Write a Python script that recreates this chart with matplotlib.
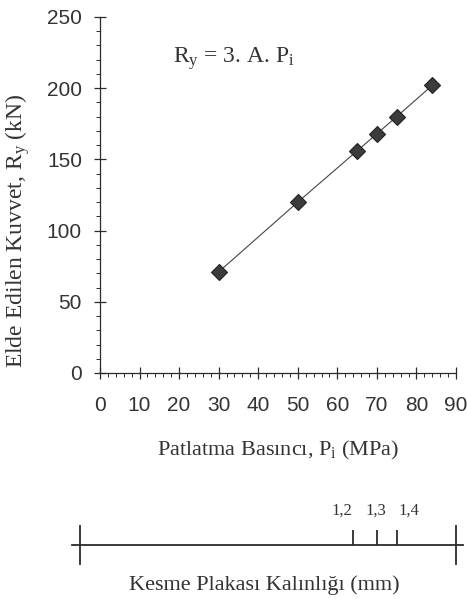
import matplotlib
matplotlib.use('Agg')
import matplotlib.pyplot as plt
from matplotlib.ticker import MultipleLocator

# veri
basinc = [30, 50, 65, 70, 75, 84]          # Pi (MPa)
kuvvet = [71, 120, 156, 168, 180, 202]     # Ry (kN)
kalinlik_etiket = ['1,2', '1,3', '1,4']    # kesme plakası kalınlığı (mm)
kalinlik_basinc = [64, 70, 75]             # karşılık gelen basınç
olcek_uclari = [-5, 90]

plt.rcParams['mathtext.fontset'] = 'custom'
plt.rcParams['mathtext.rm'] = 'Liberation Serif'
plt.rcParams['mathtext.it'] = 'Liberation Serif:italic'

SERIF = 'Liberation Serif'
SANS = 'Liberation Sans'
KOYU = '#2b2b2b'
YAZI = '#333333'

fig = plt.figure(figsize=(4.67, 5.99), dpi=100)
ax = fig.add_axes([100/467, 1-373/599, 356/467, 356/599])

ax.plot(basinc, kuvvet, color='#444444', lw=0.8, zorder=2)
ax.plot(basinc, kuvvet, ls='none', marker='D', ms=8, mfc='#3c3c3c',
        mec='#222222', mew=0.8, zorder=3)

ax.set_xlim(0, 90)
ax.set_ylim(0, 250)
ax.xaxis.set_major_locator(MultipleLocator(10))
ax.xaxis.set_minor_locator(MultipleLocator(2))
ax.yaxis.set_major_locator(MultipleLocator(50))
ax.yaxis.set_minor_locator(MultipleLocator(10))

for s in ['top', 'right']:
    ax.spines[s].set_visible(False)
for s in ['left', 'bottom']:
    ax.spines[s].set_color(KOYU)
    ax.spines[s].set_linewidth(0.9)

ax.tick_params(which='major', direction='inout', length=9, width=0.9,
               color=KOYU, labelsize=15)
ax.tick_params(which='minor', direction='out', length=3, width=0.7, color=KOYU)
ax.tick_params(axis='y', pad=8.5)
ax.tick_params(axis='x', pad=12)
for lab in ax.get_xticklabels() + ax.get_yticklabels():
    lab.set_family(SANS)
    lab.set_color(YAZI)

ax.set_xlabel(r'Patlatma Basıncı, P$_{\mathrm{i}}$ (MPa)', fontsize=16,
              family=SERIF, color=YAZI)
ax.xaxis.set_label_coords(0.5, -0.185)
ax.set_ylabel(r'Elde Edilen Kuvvet, R$_{\mathrm{y}}$ (kN)', fontsize=17,
              family=SERIF, color=YAZI)
ax.yaxis.set_label_coords(-0.19, 0.40)

ax.text(0.205, 0.871, r'R$_{\mathrm{y}}$ = 3. A. P$_{\mathrm{i}}$',
        transform=ax.transAxes, fontsize=17, family=SERIF, color=YAZI,
        va='baseline')

# alt ölçek: kesme plakası kalınlığı
ax2 = fig.add_axes([100/467, 1-565/599, 356/467, 40/599], sharex=ax)
ax2.axis('off')
ax2.set_ylim(-1, 1)
ax2.plot([-7, 91.8], [0, 0], color=KOYU, lw=1.3, clip_on=False)
ax2.vlines(olcek_uclari, -1, 1, color=KOYU, lw=1.3, clip_on=False)
ax2.vlines(kalinlik_basinc, 0, 0.75, color=KOYU, lw=1.3, clip_on=False)
kaydirma = [-2.8, -0.3, 3.0]
for x, t, d in zip(kalinlik_basinc, kalinlik_etiket, kaydirma):
    ax2.text(x + d, 1.3, t, ha='center', va='bottom', fontsize=12,
             family=SERIF, color=YAZI)
ax2.text(41.5, -1.5, 'Kesme Plakası Kalınlığı (mm)', ha='center', va='top',
         fontsize=16, family=SERIF, color=YAZI)

fig.savefig('out.png', dpi=100)
